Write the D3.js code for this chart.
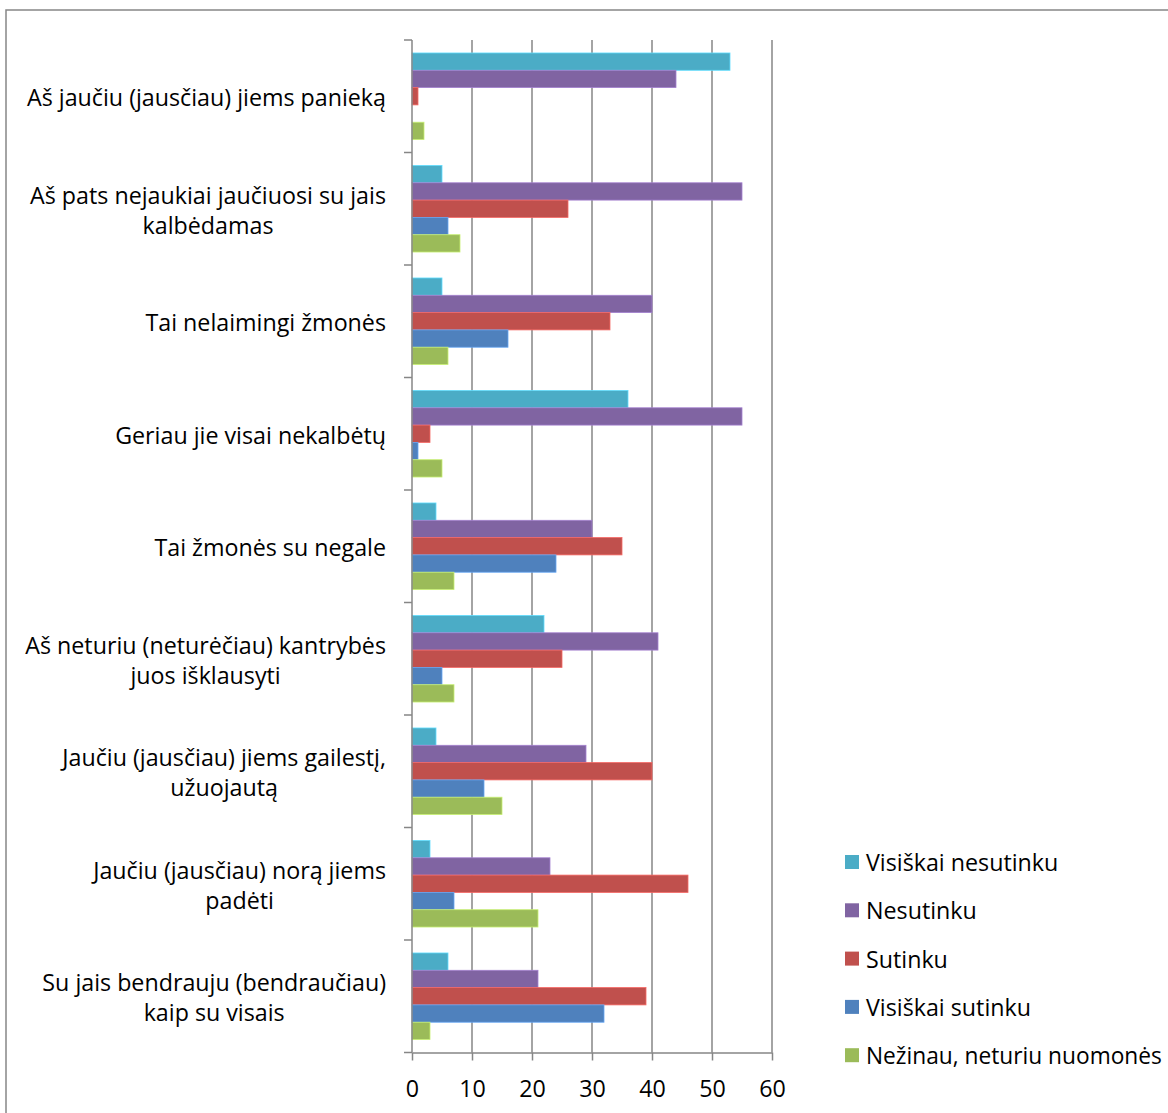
<!DOCTYPE html>
<html>
<head>
<meta charset="utf-8">
<script src="https://cdn.jsdelivr.net/npm/d3@7"></script>
<style>
  html, body { margin: 0; padding: 0; background: #fff; }
  svg { display: block; }
</style>
</head>
<body>
<svg id="chart" width="1168" height="1113"></svg>
<script>
const categories = [
  ["Aš jaučiu (jausčiau) jiems panieką"],
  ["Aš pats nejaukiai jaučiuosi su jais", "kalbėdamas"],
  ["Tai nelaimingi žmonės"],
  ["Geriau jie visai nekalbėtų"],
  ["Tai žmonės su negale"],
  ["Aš neturiu (neturėčiau) kantrybės", "juos išklausyti"],
  ["Jaučiu (jausčiau) jiems gailestį,", "užuojautą"],
  ["Jaučiu (jausčiau) norą jiems", "padėti"],
  ["Su jais bendrauju (bendraučiau)", "kaip su visais"]
];
const seriesNames = ["Visiškai nesutinku", "Nesutinku", "Sutinku", "Visiškai sutinku", "Nežinau, neturiu nuomonės"];
const seriesColors = ["#4BACC6", "#8064A2", "#C0504D", "#4F81BD", "#9BBB59"];
const visiskaiNesutinku = [53, 5, 5, 36, 4, 22, 4, 3, 6];
const nesutinku        = [44, 55, 40, 55, 30, 41, 29, 23, 21];
const sutinku          = [1, 26, 33, 3, 35, 25, 40, 46, 39];
const visiskaiSutinku  = [0, 6, 16, 1, 24, 5, 12, 7, 32];
const nezinau          = [2, 8, 6, 5, 7, 7, 15, 21, 3];
const seriesValues = [visiskaiNesutinku, nesutinku, sutinku, visiskaiSutinku, nezinau];
const xTicks = [0, 10, 20, 30, 40, 50, 60];

const svg = d3.select("#chart");
const fontFamily = "'Open Sans', 'Noto Sans', sans-serif";
const fs = 23.5;
const grey = "#868686";

function draw() {
  // horizontal squeeze factor so Open Sans approximates the narrower original face
  const probe = svg.append("text").attr("font-family", fontFamily).attr("font-size", fs)
    .text("Aš jaučiu (jausčiau) jiems panieką");
  const k = Math.min(1, 359 / probe.node().getComputedTextLength());
  probe.remove();

  function squeeze(sel) {
    sel.each(function() {
      const w = this.getComputedTextLength() * k;
      d3.select(this).attr("textLength", w).attr("lengthAdjust", "spacingAndGlyphs");
    });
    return sel;
  }

  // outer frame
  svg.append("rect").attr("x", 6).attr("y", 10).attr("width", 1200).attr("height", 1200)
    .attr("fill", "none").attr("stroke", grey).attr("stroke-width", 1.5);

  const x = d3.scaleLinear().domain([0, 60]).range([412, 772]);
  const y = d3.scaleBand().domain(d3.range(categories.length)).range([40, 1052.5]);
  const inner = d3.scaleBand().domain(d3.range(seriesNames.length))
    .range([0, y.bandwidth()]).paddingInner(0).paddingOuter(0.75);

  // gridlines
  svg.append("g").selectAll("line").data(xTicks.slice(1)).join("line")
    .attr("x1", d => x(d)).attr("x2", d => x(d))
    .attr("y1", 40).attr("y2", 1052.5)
    .attr("stroke", grey).attr("stroke-width", 1.5);

  // bars
  const groups = svg.append("g").selectAll("g").data(categories).join("g")
    .attr("transform", (d, i) => `translate(0,${y(i)})`);
  groups.each(function(c, ci) {
    d3.select(this).selectAll("rect").data(seriesValues.map((s, si) => ({ v: s[ci], si })))
      .join("rect")
      .attr("x", x(0))
      .attr("y", d => inner(d.si))
      .attr("width", d => x(d.v) - x(0))
      .attr("height", inner.bandwidth())
      .attr("fill", d => seriesColors[d.si])
      .attr("stroke", d => d3.color(seriesColors[d.si]).brighter(0.7))
      .attr("stroke-width", 0.8)
      .attr("stroke-opacity", d => d.v > 0 ? 1 : 0);
  });

  // category axis with ticks at band boundaries
  const yAxisG = svg.append("g");
  yAxisG.append("line").attr("x1", x(0)).attr("x2", x(0)).attr("y1", 40).attr("y2", 1052.5)
    .attr("stroke", grey).attr("stroke-width", 1.5);
  const bounds = d3.range(categories.length + 1).map(i => 40 + i * y.step());
  yAxisG.selectAll("line.tick").data(bounds).join("line").attr("class", "tick")
    .attr("x1", x(0) - 8).attr("x2", x(0)).attr("y1", d => d).attr("y2", d => d)
    .attr("stroke", grey).attr("stroke-width", 1.5);

  // value axis
  const xAxis = d3.axisBottom(x).tickValues(xTicks).tickSize(8).tickSizeOuter(0);
  const xg = svg.append("g").attr("transform", "translate(0,1052.5)").call(xAxis);
  xg.select(".domain").attr("stroke", grey).attr("stroke-width", 1.5);
  xg.selectAll(".tick line").attr("stroke", grey).attr("stroke-width", 1.5);
  xg.selectAll(".tick text").attr("font-family", fontFamily).attr("font-size", fs)
    .attr("fill", "#000").attr("y", 35).attr("dy", null).attr("dominant-baseline", "central");
  squeeze(xg.selectAll(".tick text"));

  // category labels
  const labelRight = 386;
  const lineH = 30;
  categories.forEach((lines, i) => {
    const cy = y(i) + y.bandwidth() / 2 + 1;
    const g = svg.append("g");
    const texts = lines.map((t, li) => g.append("text")
      .attr("font-family", fontFamily).attr("font-size", fs).attr("fill", "#000")
      .attr("text-anchor", "middle").attr("dominant-baseline", "central")
      .attr("y", cy + (li - (lines.length - 1) / 2) * lineH)
      .text(t));
    texts.forEach(t => squeeze(t));
    const maxW = d3.max(texts, t => +t.attr("textLength"));
    texts.forEach(t => t.attr("x", labelRight - maxW / 2));
  });

  // legend
  const legend = svg.append("g");
  const legendTextX = 866;
  const legendMaxW = 1162 - legendTextX;
  seriesNames.forEach((n, i) => {
    const ly = 862 + i * 48.3;
    legend.append("rect").attr("x", 845).attr("y", ly - 7).attr("width", 14).attr("height", 14)
      .attr("fill", seriesColors[i]);
    const t = legend.append("text").attr("x", legendTextX).attr("y", ly).attr("dominant-baseline", "central")
      .attr("font-family", fontFamily).attr("font-size", fs).attr("fill", "#000").text(n);
    const natural = t.node().getComputedTextLength();
    if (natural * k > legendMaxW || natural > legendMaxW) {
      // shrink the font itself so the text fits inside the picture
      t.attr("font-size", fs * legendMaxW / natural);
    } else {
      squeeze(t);
    }
  });
}

if (document.fonts && document.fonts.load) {
  document.fonts.load(`${fs}px 'Open Sans'`).then(draw, draw);
} else {
  draw();
}
</script>
</body>
</html>
